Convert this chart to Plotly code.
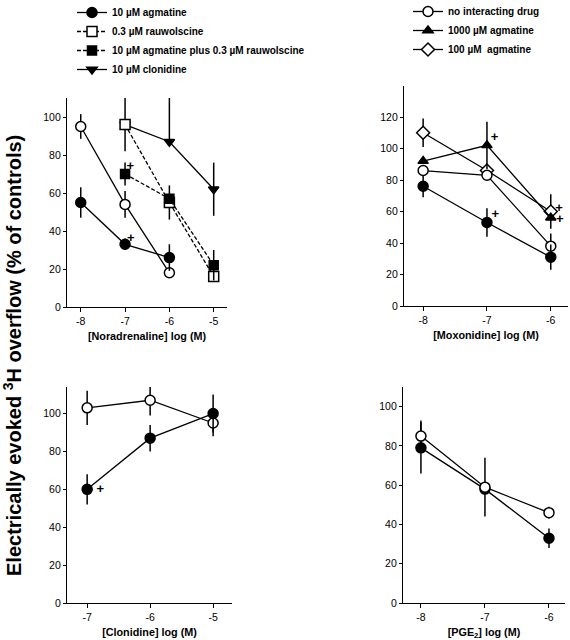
import plotly.graph_objects as go

FONT = "Liberation Sans, Arial, sans-serif"
W, H = 570, 640

# ---------------- data ----------------
# Panel A: Noradrenaline
na_x_ctrl = [-8, -7, -6]
na_ctrl = [95, 54, 18]
na_ctrl_err = [6.5, 7, 0]
na_x_agm = [-8, -7, -6]
na_agm = [55, 33, 26]
na_agm_err = [8, 3, 7]
na_x_rauw = [-7, -6, -5]
na_rauw = [96, 55, 16]
na_rauw_err = [14, 9, 0]
na_x_agmrauw = [-7, -6, -5]
na_agmrauw = [70, 57, 22]
na_agmrauw_err = [6, 0, 8]
na_x_clon = [-7, -6, -5]
na_clon = [96, 87, 62]
na_clon_err_plus = [0, 23, 14]
na_clon_err_minus = [0, 0, 14]
na_plus_x = [-6.87, -6.88]
na_plus_y = [36, 74]

# Panel B: Moxonidine
mx_x = [-8, -7, -6]
mx_ctrl = [86, 83, 38]
mx_ctrl_err = [0, 0, 8]
mx_agm10 = [76, 53, 31]
mx_agm10_err = [7, 9, 8]
mx_agm1000 = [92, 102, 56]
mx_agm1000_err = [0, 15, 0]
mx_agm100 = [110, 86, 60]
mx_agm100_err = [9, 0, 11]
mx_plus_x = [-6.88, -6.87, -5.87, -5.86]
mx_plus_y = [107, 58, 62, 55]

# Panel C: Clonidine
cl_x = [-7, -6, -5]
cl_ctrl = [103, 107, 95]
cl_ctrl_err = [9, 8, 7]
cl_agm10 = [60, 87, 100]
cl_agm10_err = [8, 7, 10]
cl_plus_x = [-6.79]
cl_plus_y = [60]

# Panel D: PGE2
pg_x = [-8, -7, -6]
pg_ctrl = [85, 59, 46]
pg_ctrl_err = [8, 15, 3]
pg_agm10 = [79, 58, 33]
pg_agm10_err = [13, 0, 5]

# ---------------- layout helpers ----------------
def px_dom_x(a, b):
    return [a / W, b / W]

def px_dom_y(top, bottom):
    return [1 - bottom / H, 1 - top / H]

fig = go.Figure()

def add(x, y, xa, ya, symbol, fill, name=None, legend="legend", showlegend=False,
        err=None, errm=None, dash="solid", size=9, rank=None):
    ey = None
    if err is not None:
        if errm is None:
            ey = dict(type="data", array=err, visible=True, color="black", thickness=1.5, width=0)
        else:
            ey = dict(type="data", array=err, arrayminus=errm, symmetric=False, visible=True,
                      color="black", thickness=1.5, width=0)
    fig.add_trace(go.Scatter(
        x=x, y=y, xaxis=xa, yaxis=ya, mode="lines+markers",
        line=dict(color="black", width=1.3, dash=dash),
        marker=dict(symbol=symbol, size=size, color=fill, line=dict(color="black", width=1.5)),
        error_y=ey, name=("<b>%s</b>" % name) if name else None,
        showlegend=showlegend, legend=legend,
        legendrank=rank if rank is not None else 1000,
    ))

def plus(x, y, xa, ya):
    fig.add_trace(go.Scatter(x=x, y=y, xaxis=xa, yaxis=ya, mode="text", text=["<b>+</b>"] * len(x),
                             textfont=dict(family=FONT, size=13, color="black"),
                             showlegend=False, hoverinfo="skip", cliponaxis=False))

DASH = "4px,2px"

# Panel A (x, y)
add(na_x_clon, na_clon, "x", "y", "triangle-down", "black", "10 µM clonidine", "legend", True,
    na_clon_err_plus, na_clon_err_minus, rank=4)
add(na_x_rauw, na_rauw, "x", "y", "square", "white", "0.3 µM rauwolscine", "legend", True,
    na_rauw_err, dash=DASH, size=10, rank=2)
add(na_x_agmrauw, na_agmrauw, "x", "y", "square", "black", "10 µM agmatine plus 0.3 µM rauwolscine",
    "legend", True, na_agmrauw_err, dash=DASH, size=9, rank=3)
add(na_x_ctrl, na_ctrl, "x", "y", "circle", "white", err=na_ctrl_err, size=10)
add(na_x_agm, na_agm, "x", "y", "circle", "black", "10 µM agmatine", "legend", True, na_agm_err,
    size=10, rank=1)
plus(na_plus_x, na_plus_y, "x", "y")

# Panel B (x2, y2)
add(mx_x, mx_agm100, "x2", "y2", "diamond", "white", "100 µM  agmatine", "legend2", True,
    mx_agm100_err, size=10, rank=3)
add(mx_x, mx_agm1000, "x2", "y2", "triangle-up", "black", "1000 µM agmatine", "legend2", True,
    mx_agm1000_err, size=9, rank=2)
add(mx_x, mx_ctrl, "x2", "y2", "circle", "white", "no interacting drug", "legend2", True,
    mx_ctrl_err, size=10, rank=1)
add(mx_x, mx_agm10, "x2", "y2", "circle", "black", err=mx_agm10_err, size=10)
plus(mx_plus_x, mx_plus_y, "x2", "y2")

# Panel C (x3, y3)
add(cl_x, cl_ctrl, "x3", "y3", "circle", "white", err=cl_ctrl_err, size=10)
add(cl_x, cl_agm10, "x3", "y3", "circle", "black", err=cl_agm10_err, size=10)
plus(cl_plus_x, cl_plus_y, "x3", "y3")

# Panel D (x4, y4)
add(pg_x, pg_agm10, "x4", "y4", "circle", "black", err=pg_agm10_err, size=10)
add(pg_x, pg_ctrl, "x4", "y4", "circle", "white", err=pg_ctrl_err, size=10)

tickfont = dict(family=FONT, size=10.5, color="black")
titlefont = dict(family=FONT, size=10.8, color="black")

def xax(dom, rng, ticks, title, anchor):
    return dict(domain=dom, range=rng, tickvals=ticks, ticktext=[str(t) for t in ticks],
                showline=True, linecolor="black", linewidth=1.2, ticks="outside", ticklen=4,
                tickcolor="black", showgrid=False, zeroline=False, tickfont=tickfont,
                title=dict(text=title, font=titlefont, standoff=6), anchor=anchor,
                automargin=False)

def yax(dom, rng, ticks, anchor):
    return dict(domain=dom, range=rng, tickvals=ticks, showline=True, linecolor="black",
                linewidth=1.2, ticks="outside", ticklen=3, tickcolor="black", showgrid=False,
                zeroline=False, tickfont=tickfont, anchor=anchor, automargin=False)

fig.update_layout(
    width=W, height=H, margin=dict(l=0, r=0, t=0, b=0, autoexpand=False),
    paper_bgcolor="white", plot_bgcolor="white",
    font=dict(family=FONT, color="black"),
    xaxis=xax(px_dom_x(67, 227), [-8.31, -4.7], [-8, -7, -6, -5], "<b>[Noradrenaline] log (M)</b>", "y"),
    yaxis=yax(px_dom_y(98, 307), [0, 110], [0, 20, 40, 60, 80, 100], "x"),
    xaxis2=xax(px_dom_x(404, 568), [-8.3, -5.73], [-8, -7, -6], "<b>[Moxonidine] log (M)</b>", "y2"),
    yaxis2=yax(px_dom_y(85.5, 306), [0, 140], [0, 20, 40, 60, 80, 100, 120], "x2"),
    xaxis3=xax(px_dom_x(67, 232), [-7.32, -4.7], [-7, -6, -5], "<b>[Clonidine] log (M)</b>", "y3"),
    yaxis3=yax(px_dom_y(387, 603), [0, 114], [0, 20, 40, 60, 80, 100], "x3"),
    xaxis4=xax(px_dom_x(403, 565), [-8.28, -5.75], [-8, -7, -6], "<b>[PGE<sub>2</sub>] log (M)</b>", "y4"),
    yaxis4=yax(px_dom_y(387, 603), [0, 110], [0, 20, 40, 60, 80, 100], "x4"),
    legend=dict(x=72 / W, y=1 + 2 / H, xanchor="left", yanchor="top", bgcolor="rgba(0,0,0,0)",
                font=dict(family=FONT, size=10, color="black"), itemwidth=30,
                tracegroupgap=0, traceorder="normal"),
    legend2=dict(x=408 / W, y=1 + 3 / H, xanchor="left", yanchor="top", bgcolor="rgba(0,0,0,0)",
                 font=dict(family=FONT, size=10, color="black"), itemwidth=30,
                 tracegroupgap=0, traceorder="normal"),
    annotations=[dict(text="<b>Electrically evoked <sup>3</sup>H overflow (% of controls)</b>",
                      x=12 / W, y=1 - 356 / H, xref="paper", yref="paper", textangle=-90,
                      xanchor="center", yanchor="middle",
                      showarrow=False, font=dict(family=FONT, size=20, color="black"))],
)

fig.write_html("out.html", post_script="document.body.style.margin='0';",
               config={"displayModeBar": False})
